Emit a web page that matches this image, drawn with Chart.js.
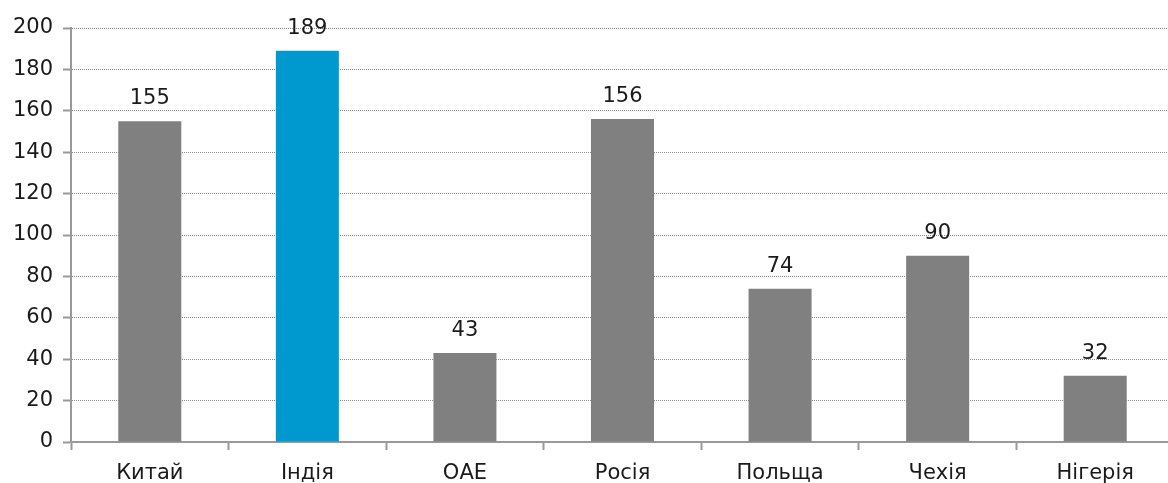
<!DOCTYPE html>
<html>
<head>
<meta charset="utf-8">
<script src="https://cdn.jsdelivr.net/npm/chart.js@4"></script>
<style>
  html, body { margin: 0; padding: 0; background: #fff; overflow: hidden; }
  #wrap { width: 1174px; height: 483px; }
</style>
</head>
<body>
<div id="wrap"><canvas id="chart"></canvas></div>
<script>
const countries = ["Китай", "Індія", "ОАЕ", "Росія", "Польща", "Чехія", "Нігерія"];
const values = [155, 189, 43, 156, 74, 90, 32];
const barColors = ["#808080", "#0099cf", "#808080", "#808080", "#808080", "#808080", "#808080"];
const yTicks = [0, 20, 40, 60, 80, 100, 120, 140, 160, 180, 200];

const FONT = "'DejaVu Sans', sans-serif";

const valueLabels = {
  id: "valueLabels",
  afterDatasetsDraw(chart) {
    const ctx = chart.ctx;
    const meta = chart.getDatasetMeta(0);
    ctx.save();
    ctx.font = "21px " + FONT;
    ctx.fillStyle = "#1a1a1a";
    ctx.textAlign = "center";
    ctx.textBaseline = "bottom";
    meta.data.forEach((bar, i) => {
      ctx.fillText(values[i], bar.x, bar.y - 12);
    });
    ctx.restore();
  }
};

new Chart(document.getElementById("chart"), {
  type: "bar",
  data: {
    labels: countries,
    datasets: [{
      data: values,
      backgroundColor: barColors,
      barPercentage: 0.8,
      categoryPercentage: 0.5
    }]
  },
  options: {
    responsive: true,
    maintainAspectRatio: false,
    animation: false,
    layout: { padding: { top: 28, right: 0, left: 0, bottom: 0 } },
    plugins: {
      legend: { display: false },
      tooltip: { enabled: false }
    },
    scales: {
      x: {
        offset: true,
        grid: {
          offset: true,
          drawOnChartArea: false,
          drawTicks: true,
          tickLength: 8,
          tickWidth: 2,
          color: "#999"
        },
        border: { color: "#999", width: 2 },
        ticks: {
          color: "#1a1a1a",
          font: { family: FONT, size: 21 },
          padding: 11
        },
        afterFit(scale) { scale.height = 41; }
      },
      y: {
        min: 0,
        max: 200,
        afterBuildTicks(scale) { scale.ticks = yTicks.map(v => ({ value: v })); },
        grid: {
          color: "#8c8c8c",
          tickBorderDash: [],
          tickLength: 8,
          tickWidth: 2,
          tickColor: "#999",
          lineWidth: 1
        },
        border: { color: "#999", width: 2, dash: [1, 1] },
        ticks: {
          color: "#1a1a1a",
          font: { family: FONT, size: 21 },
          padding: 10
        },
        afterFit(scale) { scale.width = 71; }
      }
    }
  },
  plugins: [valueLabels]
});
</script>
</body>
</html>
